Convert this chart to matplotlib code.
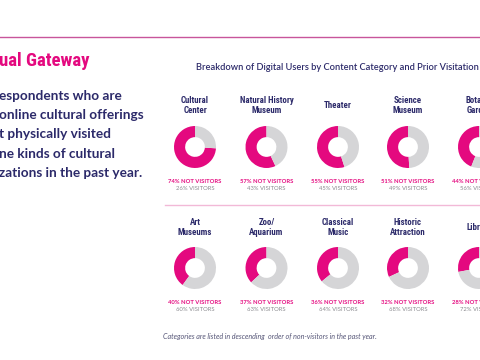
import matplotlib
matplotlib.use('Agg')
import matplotlib.pyplot as plt

row1_names = ['Cultural\nCenter', 'Natural History\nMuseum', 'Theater', 'Science\nMuseum', 'Botanic\nGarden']
row1_not = [74, 57, 55, 51, 44]
row2_names = ['Art\nMuseums', 'Zoo/\nAquarium', 'Classical\nMusic', 'Historic\nAttraction', 'Library']
row2_not = [40, 37, 36, 32, 28]

body_lines = ['espondents who are', 'online cultural offerings', 't physically visited',
              'ne kinds of cultural', 'zations in the past year.']

MAGENTA = '#e4097f'
GRAY = '#d5d5d7'
NAVY = '#2c2a6a'
W, H = 480, 360
NARROW = ['Roboto Condensed', 'DejaVu Sans Condensed', 'Liberation Sans Narrow',
          'Open Sans Condensed', 'Noto Sans Condensed', 'DejaVu Sans']
SANS = ['Lato', 'DejaVu Sans']

fig = plt.figure(figsize=(4.8, 3.6), dpi=100)
fig.patch.set_facecolor('white')

def fx(x):
    return x / W

def fy(y):
    return 1 - y / H

# divider lines
fig.add_artist(plt.Line2D([0, 1], [fy(36.5), fy(36.5)], color='#c8559b', lw=1.0))
fig.add_artist(plt.Line2D([fx(165), 1], [fy(204.5), fy(204.5)], color='#f2b9d7', lw=1.0))

fig.text(fx(-1), fy(61), 'ual Gateway', color=MAGENTA, fontsize=13.5, fontweight='bold',
         family=NARROW, fontstretch='condensed', va='center', ha='left')
for i, line in enumerate(body_lines):
    fig.text(fx(-1), fy(96 + i * 19.2), line, color=NAVY, fontsize=9.8, fontweight='bold',
             family=SANS, va='center', ha='left')

fig.text(fx(337), fy(68), 'Breakdown of Digital Users by Content Category and Prior Visitation',
         color=NAVY, fontsize=6.7, fontweight='semibold', family=SANS,
         ha='center', va='center')

fig.text(fx(163), fy(337), 'Categories are listed in descending  order of non-visitors in the past year.',
         color='#555577', fontsize=5.1, style='italic', family=SANS,
         ha='left', va='center')

xs = [195, 266.5, 338, 408, 479]
r = 21

def draw_row(names, nots, cy, ty, ly):
    for cx, name, n in zip(xs, names, nots):
        ax = fig.add_axes([fx(cx - r), fy(cy + r), 2 * r / W, 2 * r / H])
        ax.pie([n, 100 - n], colors=[MAGENTA, GRAY], startangle=90, counterclock=True,
               wedgeprops=dict(width=0.53, linewidth=0))
        ax.set_xlim(-1, 1)
        ax.set_ylim(-1, 1)
        ax.set_aspect('equal')
        ax.axis('off')
        fig.text(fx(cx), fy(ty), name, color=NAVY, fontsize=6.4, fontweight='bold',
                 family=NARROW, fontstretch='condensed', ha='center', va='center',
                 linespacing=1.1)
        fig.text(fx(cx), fy(ly), f'{n}% NOT VISITORS', color=MAGENTA, fontsize=4.2,
                 fontweight='bold', family=SANS, ha='center', va='center')
        fig.text(fx(cx), fy(ly + 6.8), f'{100 - n}% VISITORS', color='#8a8a8f', fontsize=4.2,
                 family=SANS, ha='center', va='center')

draw_row(row1_names, row1_not, 147, 105.5, 181.5)
draw_row(row2_names, row2_not, 268, 227.5, 302.5)

fig.savefig('out.png', dpi=100, facecolor='white')
